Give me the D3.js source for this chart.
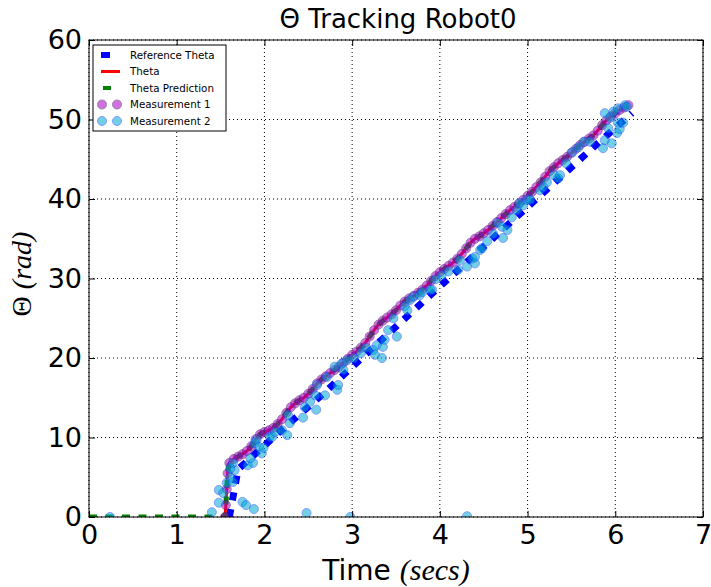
<html>
<head>
<meta charset="utf-8">
<title>Theta Tracking Robot0</title>
<style>
	body {
		margin: 0;
		background-color: white;
		font-family: "DejaVu Sans", sans-serif;
	}
	svg {
		display: block;
		background-color: white;
	}
	.grid line {
		stroke: black;
		stroke-width: 1;
		stroke-dasharray: 1,3;
	}
	.axis path {
		display: none;
	}
	.axis line {
		stroke: black;
	}
	.axis text {
		font-family: "DejaVu Sans", sans-serif;
		font-size: 27px;
		fill: black;
	}
</style>
</head>
<body>
<div id="chart"></div>

<script src="https://cdnjs.cloudflare.com/ajax/libs/d3/7.8.5/d3.min.js"></script>
<script>
// ticks
var xTicks = [0, 1, 2, 3, 4, 5, 6, 7];
var yTicks = [0, 10, 20, 30, 40, 50, 60];

// reference theta (blue dashes)
var refT = [1.60, 1.70, 2.12, 2.69, 3.11, 4.00, 5.00, 5.75, 6.19];
var refV = [0.0, 6.0, 10.2, 15.7, 20.0, 29.0, 39.0, 46.5, 50.8];

// theta estimate (red), measurement 1 sits on it
var thetaT = [1.55, 1.56, 1.57, 1.58, 1.60, 1.65, 1.70, 1.75, 1.80, 1.85, 1.90, 1.95,
	2.00, 2.05, 2.10, 2.15, 2.20, 2.25, 2.30, 2.35, 2.40, 2.45, 2.50, 2.55, 2.60, 2.65,
	2.70, 2.75, 2.80, 2.85, 2.90, 2.95, 3.00, 3.05, 3.10, 3.15, 3.20, 3.25, 3.30, 3.35,
	3.40, 3.45, 3.50, 3.55, 3.60, 3.65, 3.70, 3.75, 3.80, 3.85, 3.90, 3.95, 4.00, 4.05,
	4.10, 4.15, 4.20, 4.25, 4.30, 4.35, 4.40, 4.45, 4.50, 4.55, 4.60, 4.65, 4.70, 4.75,
	4.80, 4.85, 4.90, 4.95, 5.00, 5.05, 5.10, 5.15, 5.20, 5.25, 5.30, 5.35, 5.40, 5.45,
	5.50, 5.55, 5.60, 5.65, 5.70, 5.75, 5.80, 5.85, 5.90, 5.95, 6.00, 6.05, 6.10, 6.15];
var thetaV = [0.0, 1.5, 3.5, 5.5, 6.8, 7.3, 7.6, 7.9, 8.3, 8.9, 9.8, 10.4,
	10.7, 10.9, 11.2, 11.7, 12.3, 13.1, 13.8, 14.3, 14.7, 15.0, 15.5, 16.1, 16.8, 17.3,
	17.7, 18.1, 18.5, 18.9, 19.4, 19.9, 20.4, 20.8, 21.3, 21.9, 22.7, 23.5, 24.2, 24.7,
	25.1, 25.5, 26.0, 26.6, 27.1, 27.5, 27.8, 28.2, 28.6, 29.1, 29.7, 30.3, 30.8, 31.2,
	31.6, 32.0, 32.5, 33.1, 33.8, 34.5, 35.0, 35.3, 35.7, 36.1, 36.6, 37.1, 37.6, 38.1,
	38.6, 39.0, 39.4, 39.9, 40.4, 40.9, 41.5, 42.1, 42.8, 43.5, 44.0, 44.5, 44.9, 45.3,
	45.8, 46.3, 46.8, 47.2, 47.6, 48.0, 48.6, 49.3, 49.9, 50.4, 50.8, 51.2, 51.5, 51.8];

// prediction is flat before the robot starts moving, then follows theta
var predT = [0.0, 1.55];
var predV = [0.0, 0.0];

// measurement 2 [time, theta]
var meas2 = [
	[0.24, 0.0], [1.40, 0.6], [1.48, 1.8], [1.48, 3.4], [1.53, 3.0], [1.57, 4.3],
	[1.61, 5.0], [1.64, 4.4], [1.66, 5.9], [1.61, 6.1], [1.64, 6.8], [1.75, 1.9],
	[1.79, 1.5], [1.88, 1.0], [1.81, 6.5], [1.87, 6.8], [1.84, 7.4], [1.89, 9.3],
	[1.91, 9.7], [1.94, 8.8], [1.97, 8.0], [1.99, 8.7], [2.06, 10.1], [2.09, 10.1],
	[2.12, 10.7], [2.20, 10.9], [2.26, 10.3], [2.27, 12.8], [2.29, 11.8], [2.44, 12.5],
	[2.46, 13.8], [2.48, 0.5], [2.52, 14.5], [2.58, 15.3], [2.59, 13.5], [2.60, 16.6],
	[2.69, 15.3], [2.71, 17.6], [2.80, 18.9], [2.83, 16.0], [2.84, 16.6], [2.88, 19.3],
	[2.90, 18.5], [2.94, 19.7], [2.98, 0.0], [3.02, 20.0], [3.10, 20.6], [3.16, 21.3],
	[3.24, 21.0], [3.26, 20.4], [3.28, 21.6], [3.34, 20.0], [3.35, 21.4], [3.37, 22.3],
	[3.41, 23.5], [3.47, 25.0], [3.51, 22.7], [3.60, 26.5], [3.63, 26.0], [3.66, 27.3],
	[3.70, 27.7], [3.77, 27.9], [3.80, 28.3], [3.89, 28.6], [3.91, 28.6], [3.95, 29.9],
	[4.02, 30.4], [4.10, 30.9], [4.21, 31.1], [4.23, 32.3], [4.31, 0.1], [4.31, 31.5],
	[4.37, 32.5], [4.40, 31.9], [4.40, 32.7], [4.46, 33.6], [4.48, 33.8], [4.54, 34.7],
	[4.61, 35.6], [4.66, 37.0], [4.71, 36.5], [4.72, 35.1], [4.77, 36.1], [4.82, 37.7],
	[4.88, 38.6], [4.91, 39.5], [4.95, 39.2], [4.99, 39.9], [5.03, 39.9], [5.14, 41.1],
	[5.18, 41.5], [5.22, 42.1], [5.30, 43.0], [5.35, 42.6], [5.37, 43.0], [5.44, 44.5],
	[5.51, 45.9], [5.58, 46.5], [5.64, 47.2], [5.71, 47.2], [5.86, 46.4], [5.88, 47.4],
	[5.88, 50.8], [5.92, 48.9], [5.94, 50.2], [5.96, 47.0], [5.98, 51.0], [6.02, 48.3],
	[6.03, 49.6], [6.03, 51.4], [6.05, 48.8], [6.09, 49.6], [6.11, 51.8], [6.13, 51.6]
];

var legendNames = ["Reference Theta", "Theta", "Theta Prediction", "Measurement 1", "Measurement 2"];

// marker styles
var m1Fill = "#a800c8", m1Edge = "#501070", m1Alpha = 0.55;
var m2Fill = "#00a8d0", m2Edge = "#1a4cff", m2Alpha = 0.55;

// canvas
var fullWidth = 711;
var fullHeight = 587;
var plot = {left: 89, right: 703, top: 40, bottom: 517};

var svg = d3.select("#chart")
	.append("svg")
	.attr("width", fullWidth)
	.attr("height", fullHeight);

var xScale = d3.scaleLinear().domain([0, 7]).range([plot.left, plot.right]);
var yScale = d3.scaleLinear().domain([0, 60]).range([plot.bottom, plot.top]);

svg.append("defs").append("clipPath")
	.attr("id", "clip")
	.append("rect")
	.attr("x", plot.left)
	.attr("y", plot.top)
	.attr("width", plot.right - plot.left)
	.attr("height", plot.bottom - plot.top);

// grid
var grid = svg.append("g").attr("class", "grid");
grid.selectAll(".gx").data(xTicks).enter().append("line")
	.attr("x1", function(d) { return xScale(d); })
	.attr("x2", function(d) { return xScale(d); })
	.attr("y1", plot.top)
	.attr("y2", plot.bottom);
grid.selectAll(".gy").data(yTicks).enter().append("line")
	.attr("x1", plot.left)
	.attr("x2", plot.right)
	.attr("y1", function(d) { return yScale(d); })
	.attr("y2", function(d) { return yScale(d); });

// data layer
var data = svg.append("g").attr("clip-path", "url(#clip)");

var line = d3.line()
	.x(function(d) { return xScale(d[0]); })
	.y(function(d) { return yScale(d[1]); });

var refPts = refT.map(function(t, i) { return [t, refV[i]]; });
var thetaPts = thetaT.map(function(t, i) { return [t, thetaV[i]]; });
var predPts = predT.map(function(t, i) { return [t, predV[i]]; }).concat(thetaPts.slice(1));

data.append("path")
	.attr("d", line(refPts))
	.attr("fill", "none")
	.attr("stroke", "#0000ff")
	.attr("stroke-width", 7)
	.attr("stroke-dasharray", "8,9");

data.append("path")
	.attr("d", line(thetaPts))
	.attr("fill", "none")
	.attr("stroke", "#ff0000")
	.attr("stroke-width", 3);

data.append("path")
	.attr("d", line(predPts))
	.attr("fill", "none")
	.attr("stroke", "#008000")
	.attr("stroke-width", 5)
	.attr("stroke-dasharray", "8,8.5");

data.selectAll(".m1").data(thetaPts).enter().append("circle")
	.attr("cx", function(d) { return xScale(d[0]); })
	.attr("cy", function(d) { return yScale(d[1]); })
	.attr("r", 4.5)
	.attr("fill", m1Fill)
	.attr("stroke", m1Edge)
	.attr("opacity", m1Alpha);

data.selectAll(".m2").data(meas2).enter().append("circle")
	.attr("cx", function(d) { return xScale(d[0]); })
	.attr("cy", function(d) { return yScale(d[1]); })
	.attr("r", 4.5)
	.attr("fill", m2Fill)
	.attr("stroke", m2Edge)
	.attr("opacity", m2Alpha);

// axes, ticks point inward like old matplotlib
svg.append("g")
	.attr("class", "axis")
	.attr("transform", "translate(0," + plot.bottom + ")")
	.call(d3.axisBottom(xScale).tickValues(xTicks).tickSize(-6).tickPadding(8).tickFormat(d3.format("d")));
svg.append("g")
	.attr("class", "axis")
	.attr("transform", "translate(0," + plot.top + ")")
	.call(d3.axisTop(xScale).tickValues(xTicks).tickSize(-6).tickFormat(""));
svg.append("g")
	.attr("class", "axis")
	.attr("transform", "translate(" + plot.left + ",0)")
	.call(d3.axisLeft(yScale).tickValues(yTicks).tickSize(-6).tickPadding(7).tickFormat(d3.format("d")));
svg.append("g")
	.attr("class", "axis")
	.attr("transform", "translate(" + plot.right + ",0)")
	.call(d3.axisRight(yScale).tickValues(yTicks).tickSize(-6).tickFormat(""));

svg.append("rect")
	.attr("x", plot.left)
	.attr("y", plot.top)
	.attr("width", plot.right - plot.left)
	.attr("height", plot.bottom - plot.top)
	.attr("fill", "none")
	.attr("stroke", "black")
	.attr("stroke-width", 1);

// title and labels
svg.append("text")
	.attr("x", 398)
	.attr("y", 28)
	.attr("text-anchor", "middle")
	.attr("font-size", "26px")
	.text("Θ Tracking Robot0");

var xl = svg.append("text")
	.attr("x", 396)
	.attr("y", 580)
	.attr("text-anchor", "middle")
	.attr("font-size", "28px");
xl.append("tspan").text("Time ");
xl.append("tspan")
	.attr("font-family", "'Liberation Serif', serif")
	.attr("font-style", "italic")
	.attr("font-size", "30px")
	.text("(secs)");

var yl = svg.append("text")
	.attr("transform", "translate(31,274) rotate(-90)")
	.attr("text-anchor", "middle")
	.attr("font-family", "'Liberation Serif', serif")
	.attr("font-size", "28px");
yl.append("tspan").text("Θ ");
yl.append("tspan").attr("font-style", "italic").text("(rad)");

// legend
var lg = svg.append("g");
lg.append("rect")
	.attr("x", 93).attr("y", 45)
	.attr("width", 133).attr("height", 86)
	.attr("fill", "white")
	.attr("stroke", "black");

var rowY = d3.scalePoint().domain(legendNames).range([55, 121]);

lg.append("line")
	.attr("x1", 101).attr("x2", 120)
	.attr("y1", rowY(legendNames[0])).attr("y2", rowY(legendNames[0]))
	.attr("stroke", "#0000ff").attr("stroke-width", 6).attr("stroke-dasharray", "9,11");
lg.append("line")
	.attr("x1", 101).attr("x2", 120)
	.attr("y1", rowY(legendNames[1])).attr("y2", rowY(legendNames[1]))
	.attr("stroke", "#ff0000").attr("stroke-width", 3);
lg.append("line")
	.attr("x1", 103).attr("x2", 120)
	.attr("y1", rowY(legendNames[2])).attr("y2", rowY(legendNames[2]))
	.attr("stroke", "#008000").attr("stroke-width", 4).attr("stroke-dasharray", "8,10");

[102, 117].forEach(function(cx) {
	lg.append("circle")
		.attr("cx", cx).attr("cy", rowY(legendNames[3])).attr("r", 4.5)
		.attr("fill", m1Fill).attr("stroke", m1Edge).attr("opacity", m1Alpha);
	lg.append("circle")
		.attr("cx", cx).attr("cy", rowY(legendNames[4])).attr("r", 4.5)
		.attr("fill", m2Fill).attr("stroke", m2Edge).attr("opacity", m2Alpha);
});

lg.selectAll(".lt").data(legendNames).enter().append("text")
	.attr("x", 130)
	.attr("y", function(d) { return rowY(d); })
	.attr("dy", "0.35em")
	.attr("font-size", "10.3px")
	.text(function(d) { return d; });
</script>
</body>
</html>
